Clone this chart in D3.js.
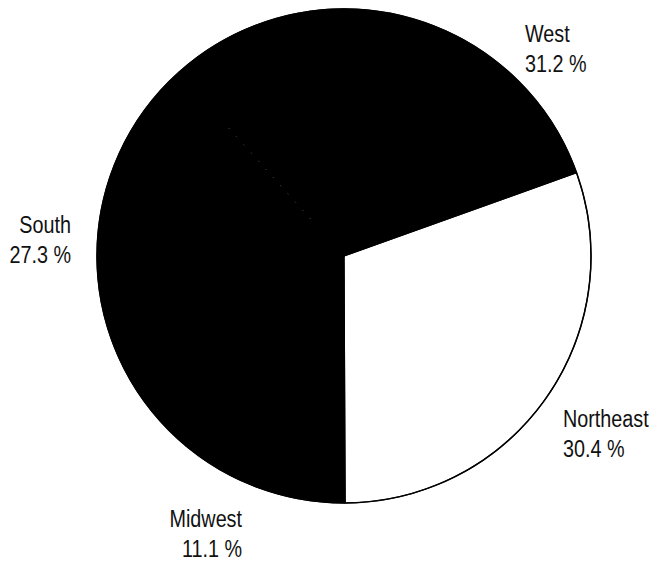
<!DOCTYPE html>
<html>
<head>
<meta charset="utf-8">
<script src="https://cdn.jsdelivr.net/npm/d3@7"></script>
<style>
  html, body { margin: 0; padding: 0; background: #fff; }
  svg { display: block; }
  text { font-family: "Liberation Sans", Arial, sans-serif; fill: #111; }
</style>
</head>
<body>
<svg id="chart" width="655" height="562"></svg>
<script>
// Regional shares, in percent
const regions = ["Northeast", "Midwest", "South", "West"];
const shares = [30.4, 11.1, 27.3, 31.2];
const shareLabels = ["30.4 %", "11.1 %", "27.3 %", "31.2 %"];

// Slice fills
const fills = ["#ffffff", "#000000", "#000000", "#000000"];

// Label placement: x, y of first baseline, text anchor
const labelLayout = {
  Northeast: { x: 563, y: 427, anchor: "start" },
  Midwest:   { x: 242, y: 527, anchor: "end" },
  South:     { x: 71,  y: 233, anchor: "end" },
  West:      { x: 525, y: 42,  anchor: "start" }
};

const W = 655, H = 562;
const cx = 344, cy = 256, R = 247;
const startDeg = 70.3;

const svg = d3.select("#chart");
const g = svg.append("g").attr("transform", `translate(${cx},${cy})`);

const data = regions.map((r, i) => ({ region: r, value: shares[i], label: shareLabels[i], fill: fills[i] }));

const pie = d3.pie()
  .sort(null)
  .value(d => d.value)
  .startAngle(startDeg * Math.PI / 180)
  .endAngle(startDeg * Math.PI / 180 + 2 * Math.PI);

const arc = d3.arc().innerRadius(0).outerRadius(R);
const arcs = pie(data);

g.selectAll("path.slice")
  .data(arcs)
  .join("path")
  .attr("class", "slice")
  .attr("d", arc)
  .attr("fill", d => d.data.fill)
  .attr("stroke", "#000")
  .attr("stroke-width", 1.2)
  .attr("stroke-linejoin", "round");

// Faint dotted seam between the South and West slices
const west = arcs.find(a => a.data.region === "West");
const a0 = west.startAngle;
g.append("line")
  .attr("x1", Math.sin(a0) * 50)
  .attr("y1", -Math.cos(a0) * 50)
  .attr("x2", Math.sin(a0) * 180)
  .attr("y2", -Math.cos(a0) * 180)
  .attr("stroke", "#5a5a5a")
  .attr("stroke-width", 1)
  .attr("stroke-dasharray", "1 10");

// Outer rim
g.append("circle")
  .attr("r", R)
  .attr("fill", "none")
  .attr("stroke", "#000")
  .attr("stroke-width", 1.5);

// Labels: region name and share on two lines, slightly condensed
const fontSize = 23, lineGap = 30, squeeze = 0.86;
const labels = svg.selectAll("g.label")
  .data(arcs)
  .join("g")
  .attr("class", "label")
  .attr("transform", d => {
    const p = labelLayout[d.data.region];
    return `translate(${p.x},${p.y}) scale(${squeeze},1)`;
  });

labels.append("text")
  .attr("text-anchor", d => labelLayout[d.data.region].anchor)
  .attr("font-size", fontSize)
  .text(d => d.data.region);

labels.append("text")
  .attr("y", lineGap)
  .attr("text-anchor", d => labelLayout[d.data.region].anchor)
  .attr("font-size", fontSize)
  .text(d => d.data.label);
</script>
</body>
</html>
